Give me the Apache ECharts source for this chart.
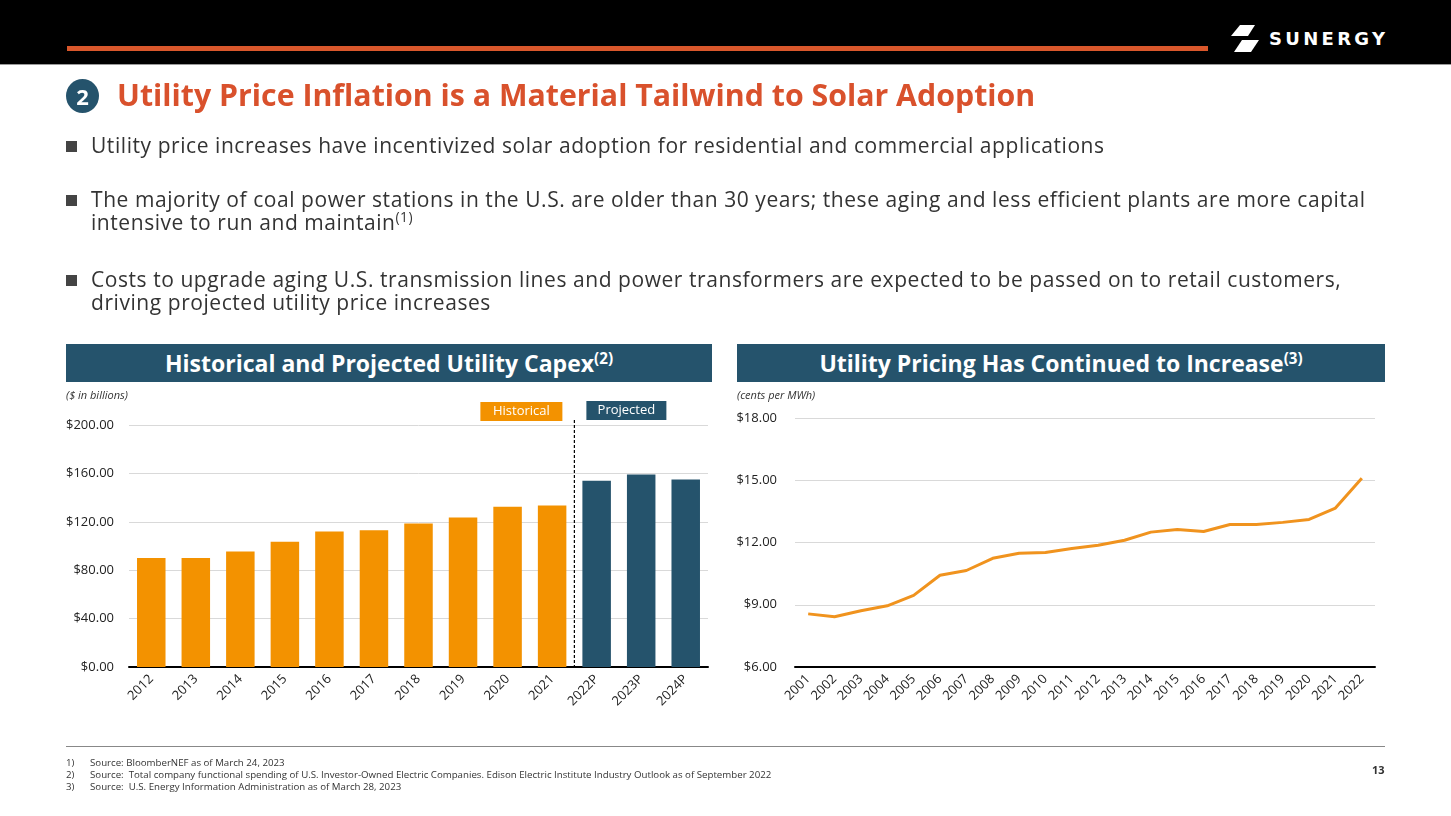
<!DOCTYPE html>
<html><head><meta charset="utf-8">
<script src="https://cdn.jsdelivr.net/npm/echarts@6/dist/echarts.min.js"></script>
<style>
html,body{margin:0;padding:0;width:1451px;height:816px;background:#fff;overflow:hidden;font-family:"Open Sans",Lato,sans-serif;font-variant-ligatures:none;}
#chart{position:absolute;left:0;top:0;width:1451px;height:816px;}
.abs{position:absolute;white-space:nowrap;}
#hdr{position:absolute;left:0;top:0;width:1451px;height:64px;background:#000;border-bottom:1px solid #9a9a9a;}
#hline{position:absolute;left:67px;top:46px;width:1141px;height:5px;background:#D9572B;}
.bul{position:absolute;left:91px;font-size:21px;letter-spacing:0.56px;color:#333;line-height:23px;white-space:nowrap;}
.sq{position:absolute;left:66px;width:11px;height:11px;background:#444;}
.panel{position:absolute;top:344px;height:38px;background:#25536C;color:#fff;font-weight:bold;font-size:23px;line-height:38px;text-align:center;}
sup{font-size:0.66em;line-height:0;vertical-align:0.55em;}
.fn{position:absolute;font-size:9.7px;color:#333;white-space:nowrap;}
.sub{position:absolute;top:387px;font-size:11px;font-style:italic;color:#333;}
</style></head>
<body>
<div id="chart"></div>
<div id="hdr"><div id="hline"></div>
<svg class="abs" style="left:1228px;top:25px" width="36" height="28" viewBox="0 0 36 28">
<polygon points="12,0 27,0 20,11 3,11" fill="#fff"/>
<polygon points="14,15 31,15 23,27 6,27" fill="#fff"/>
</svg>
<div class="abs" style="left:1269px;top:28px;color:#fff;font-weight:bold;font-size:18px;letter-spacing:3.3px;font-family:'DejaVu Sans',sans-serif;">SUNERGY</div>
</div>
<div class="abs" style="left:66px;top:79px;width:33px;height:34px;border-radius:50%;background:#25536C;color:#fff;font-weight:bold;font-size:22px;line-height:34px;text-align:center;">2</div>
<div class="abs" style="left:117px;top:74px;font-size:30.3px;font-weight:bold;color:#D9512C;">Utility Price Inflation is a Material Tailwind to Solar Adoption</div>

<div class="sq" style="top:141px"></div>
<div class="bul" style="top:134px">Utility price increases have incentivized solar adoption for residential and commercial applications</div>
<div class="sq" style="top:195px"></div>
<div class="bul" style="top:188px">The majority of coal power stations in the U.S. are older than 30 years; these aging and less efficient plants are more capital<br>intensive to run and maintain<sup>(1)</sup></div>
<div class="sq" style="top:275px"></div>
<div class="bul" style="top:268px">Costs to upgrade aging U.S. transmission lines and power transformers are expected to be passed on to retail customers,<br>driving projected utility price increases</div>

<div class="panel" style="left:66px;width:646px;">Historical and Projected Utility Capex<sup>(2)</sup></div>
<div class="panel" style="left:737px;width:648px;">Utility Pricing Has Continued to Increase<sup>(3)</sup></div>
<div class="sub" style="left:66px">($ in billions)</div>
<div class="sub" style="left:737px">(cents per MWh)</div>

<div class="abs" style="left:66px;top:746px;width:1319px;height:1px;background:#888;"></div>
<div class="fn" style="left:66px;top:756px">1)</div><div class="fn" style="left:90px;top:756px">Source: BloomberNEF as of March 24, 2023</div>
<div class="fn" style="left:66px;top:768px">2)</div><div class="fn" style="left:90px;top:768px">Source:&nbsp; Total company functional spending of U.S. Investor-Owned Electric Companies. Edison Electric Institute Industry Outlook as of September 2022</div>
<div class="fn" style="left:66px;top:780px">3)</div><div class="fn" style="left:90px;top:780px">Source:&nbsp; U.S. Energy Information Administration as of March 28, 2023</div>
<div class="abs" style="left:1372px;top:762px;font-size:11px;font-weight:bold;color:#333;">13</div>

<script>
const capexCategories = ['2012','2013','2014','2015','2016','2017','2018','2019','2020','2021','2022P','2023P','2024P'];
const capexValues = [90, 90, 95.5, 103.5, 112, 113, 118.5, 123.5, 132.5, 133.5, 154, 159, 155];
const projectedFrom = '2022P';
const capexTicks = [0, 40, 80, 120, 160, 200];

const priceYears = ['2001','2002','2003','2004','2005','2006','2007','2008','2009','2010','2011','2012','2013','2014','2015','2016','2017','2018','2019','2020','2021','2022'];
const priceValues = [8.56, 8.42, 8.71, 8.95, 9.45, 10.42, 10.65, 11.24, 11.48, 11.52, 11.71, 11.87, 12.11, 12.5, 12.63, 12.53, 12.87, 12.87, 12.97, 13.11, 13.66, 15.1];
const priceTicks = [6, 9, 12, 15, 18];

const ORANGE = '#F39200', NAVY = '#25536C', LINE = '#F0931E';
const chart = echarts.init(document.getElementById('chart'), null, {renderer:'canvas'});
const projIdx = capexCategories.indexOf(projectedFrom);
const axisLabelStyle = {color:'#222', fontSize:13, fontFamily:'Open Sans'};
chart.setOption({
  animation:false,
  grid:[
    {left:129, top:425, width:579, height:242},
    {left:795, top:418, width:580, height:249}
  ],
  xAxis:[
    {type:'category', gridIndex:0, data:capexCategories, axisTick:{show:false},
     axisLine:{lineStyle:{color:'#000', width:2}},
     axisLabel:Object.assign({rotate:45, margin:10, interval:0}, axisLabelStyle)},
    {type:'category', gridIndex:1, data:priceYears, axisTick:{show:false},
     axisLine:{lineStyle:{color:'#000', width:2}},
     axisLabel:Object.assign({rotate:45, margin:10, interval:0}, axisLabelStyle)}
  ],
  yAxis:[
    {type:'value', gridIndex:0, min:capexTicks[0], max:capexTicks[capexTicks.length-1], interval:40,
     axisLine:{show:false}, axisTick:{show:false},
     splitLine:{lineStyle:{color:'#D9D9D9'}},
     axisLabel:Object.assign({margin:15, formatter:v=>'$'+v.toFixed(2)}, axisLabelStyle)},
    {type:'value', gridIndex:1, min:priceTicks[0], max:priceTicks[priceTicks.length-1], interval:3,
     axisLine:{show:false}, axisTick:{show:false},
     splitLine:{lineStyle:{color:'#D9D9D9'}},
     axisLabel:Object.assign({margin:18, formatter:v=>'$'+v.toFixed(2)}, axisLabelStyle)}
  ],
  series:[
    {type:'bar', xAxisIndex:0, yAxisIndex:0, barWidth:'64%',
     data:capexValues.map((v,i)=>({value:v, itemStyle:{color: i>=projIdx ? NAVY : ORANGE}}))},
    {type:'line', xAxisIndex:1, yAxisIndex:1, data:priceValues, symbol:'none',
     lineStyle:{color:LINE, width:3}}
  ]
});
const xa = chart.convertToPixel({xAxisIndex:0}, capexCategories[projIdx-1]);
const xb = chart.convertToPixel({xAxisIndex:0}, capexCategories[projIdx]);
const xm = (xa+xb)/2;
const yTop = chart.convertToPixel({yAxisIndex:0}, capexTicks[capexTicks.length-1]);
const yBot = chart.convertToPixel({yAxisIndex:0}, 0);
chart.setOption({graphic:[
  {type:'line', shape:{x1:xm, y1:yTop-5, x2:xm, y2:yBot}, style:{stroke:'#000', lineWidth:1.2, lineDash:[3,2]}, z:10},
  {type:'rect', shape:{x:xm-94, y:402, width:82, height:19}, style:{fill:ORANGE}},
  {type:'text', x:xm-53, y:411.5, style:{text:'Historical', fill:'#fff', fontSize:13, fontFamily:'Open Sans', align:'center', verticalAlign:'middle'}},
  {type:'rect', shape:{x:xm+12, y:401, width:80, height:19}, style:{fill:NAVY}},
  {type:'text', x:xm+52, y:410.5, style:{text:'Projected', fill:'#fff', fontSize:13, fontFamily:'Open Sans', align:'center', verticalAlign:'middle'}}
]});
</script>
</body></html>
